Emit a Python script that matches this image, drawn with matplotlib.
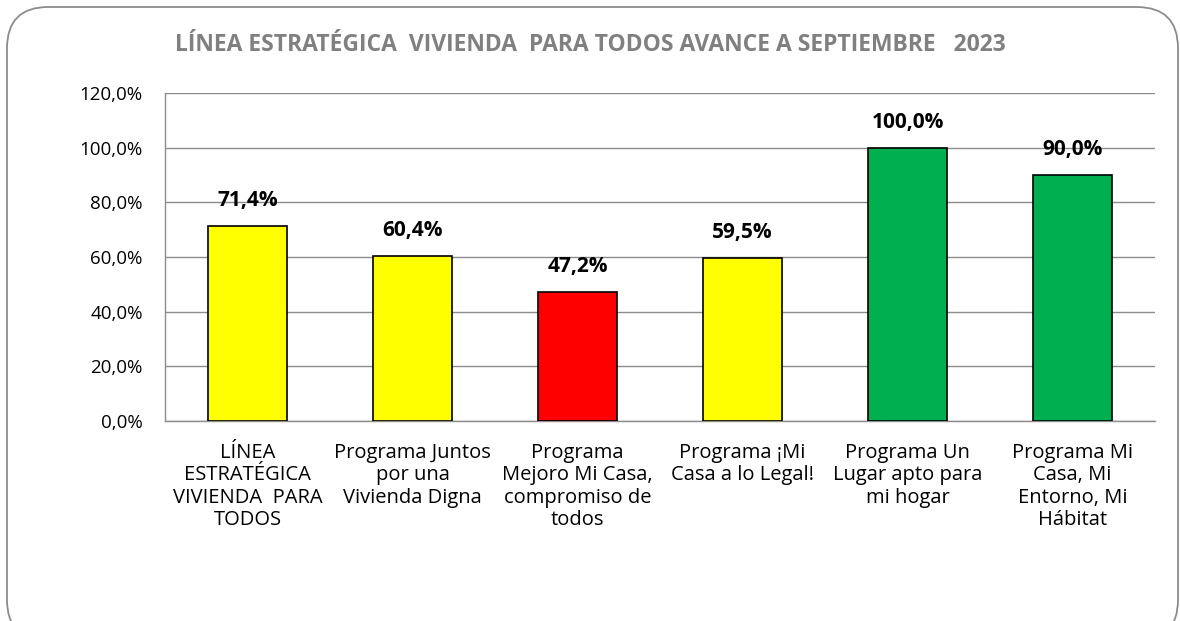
import matplotlib
matplotlib.use("Agg")
import matplotlib.pyplot as plt
from matplotlib.patches import FancyBboxPatch
from matplotlib.ticker import FuncFormatter, MultipleLocator

categories = [
    "LÍNEA\nESTRATÉGICA\nVIVIENDA  PARA\nTODOS",
    "Programa Juntos\npor una\nVivienda Digna",
    "Programa\nMejoro Mi Casa,\ncompromiso de\ntodos",
    "Programa ¡Mi\nCasa a lo Legal!",
    "Programa Un\nLugar apto para\nmi hogar",
    "Programa Mi\nCasa, Mi\nEntorno, Mi\nHábitat",
]
values = [71.4, 60.4, 47.2, 59.5, 100.0, 90.0]
colors = ["#FFFF00", "#FFFF00", "#FF0000", "#FFFF00", "#00B050", "#00B050"]
title = "LÍNEA ESTRATÉGICA  VIVIENDA  PARA TODOS AVANCE A SEPTIEMBRE   2023"

plt.rcParams['font.family'] = ['Open Sans', 'DejaVu Sans']

fig = plt.figure(figsize=(11.8, 6.21), dpi=100)
W, H = 1180, 621

# rounded outer frame (bottom cut off)
frame = FancyBboxPatch((7 / W, -20 / H), (1178 - 7) / W, (614 + 20) / H,
                       boxstyle="round,pad=0,rounding_size=0.035",
                       transform=fig.transFigure, fill=False,
                       edgecolor="#8c8c8c", linewidth=1.3,
                       mutation_aspect=W / H)
fig.patches.append(frame)

ax = fig.add_axes([165 / W, 1 - 421 / H, (1155 - 165) / W, (421 - 93) / H])
x = range(len(categories))
ax.bar(x, values, width=0.48, color=colors, edgecolor="black", linewidth=1.2, zorder=3)

ax.set_ylim(0, 120)
ax.set_xlim(-0.5, len(categories) - 0.5)
ax.yaxis.set_major_locator(MultipleLocator(20))
ax.yaxis.set_major_formatter(FuncFormatter(lambda v, p: f"{v:.1f}%".replace(".", ",")))
ax.grid(axis="y", color="#8c8c8c", linewidth=1.0, zorder=0)
ax.set_axisbelow(True)
for s in ["top", "right"]:
    ax.spines[s].set_visible(False)
for s in ["left", "bottom"]:
    ax.spines[s].set_color("#8c8c8c")
    ax.spines[s].set_linewidth(1.0)
ax.tick_params(axis="y", length=0, pad=16, labelsize=13.5, colors="black")
ax.tick_params(axis="x", length=0, pad=16, labelsize=14.5)
ax.set_xticks(list(x))
ax.set_xticklabels(categories, linespacing=1.15)

for xi, v in zip(x, values):
    ax.text(xi, v + 5.5, f"{v:.1f}%".replace(".", ","), ha="center", va="bottom",
            fontsize=15, fontweight="bold")

fig.text(590 / W, 1 - 45 / H, title, ha="center", va="center",
         fontsize=16.5, fontweight="bold", color="#808080")

fig.savefig("out.png", dpi=100)
